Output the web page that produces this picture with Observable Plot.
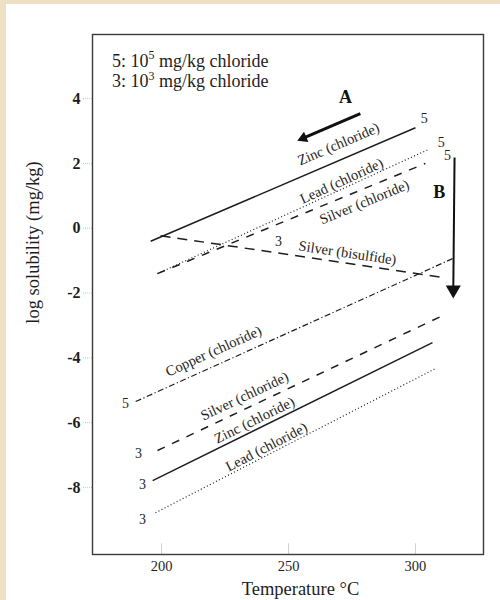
<!DOCTYPE html>
<html>
<head>
<meta charset="utf-8">
<script src="https://cdn.jsdelivr.net/npm/d3@7"></script>
<script src="https://cdn.jsdelivr.net/npm/@observablehq/plot@0.6"></script>
<style>
  html, body { margin: 0; padding: 0; background: #ffffff; overflow: hidden; }
  #wrap { position: relative; width: 500px; height: 600px; }
  .strip { position: absolute; background: #ede0c4; }
  #stripL { left: 0; top: 0; width: 6px; height: 600px; }
  #stripT { left: 0; top: 0; width: 500px; height: 4px; }
  svg { display: block; }
</style>
</head>
<body>
<div id="wrap"><div id="chart"></div><div class="strip" id="stripL"></div><div class="strip" id="stripT"></div></div>
<script>
// ---- data ----
const lineNames = ["Zinc 5", "Lead 5", "Silver chloride 5", "Silver bisulfide 3", "Copper 5", "Silver chloride 3", "Zinc 3", "Lead 3"];
const tStart = [195.7, 198.4, 198.4, 199.6, 189.8, 198.4, 196.5, 197.6];
const tEnd   = [300.0, 305.1, 303.9, 311.0, 315.4, 309.8, 306.7, 307.9];
const sStart = [-0.40, -1.40, -1.40, -0.23, -5.35, -6.86, -7.79, -8.78];
const sEnd   = [3.10, 2.43, 2.00, -1.52, -0.91, -2.73, -3.53, -4.33];

const labelText = ["Zinc (chloride)", "Lead (chloride)", "Silver (chloride)", "Silver (bisulfide)", "Copper (chloride)", "Silver (chloride)", "Zinc (chloride)", "Lead (chloride)"];
const labelT = [269.7, 270.9, 279.9, 273.2, 220.5, 232.7, 236.6, 241.3];
const labelS = [2.55, 1.41, 0.76, -0.81, -3.84, -5.23, -5.97, -6.80];

const tagText = ["5", "5", "5", "3", "5", "3", "3", "3"];
const tagT = [303.5, 310.2, 312.6, 246.1, 185.8, 190.9, 192.5, 192.5];
const tagS = [3.38, 2.64, 2.24, -0.41, -5.41, -6.96, -7.91, -8.99];

const xTicks = [200, 250, 300];
const yTicks = [4, 2, 0, -2, -4, -6, -8];

const arrowNames = ["A", "B"];
const arrowT1 = [278.3, 315.4];
const arrowS1 = [3.54, 2.18];
const arrowT2 = [255.8, 314.9];
const arrowS2 = [2.78, -1.90];
const arrowLabelT = [272.4, 309.4];
const arrowLabelS = [4.03, 1.10];

const legendLines = [["5: 10", "5", " mg/kg chloride"], ["3: 10", "3", " mg/kg chloride"]];
const legendT = 180.7;
const legendS = [4.97, 4.33];
const xLabel = "Temperature °C";
const yLabel = "log solubility (mg/kg)";

// ---- layout / style ----
const W = 500, H = 600;
const mL = 92, mR = 17, mT = 34, mB = 46;
const xDom = [172.8, 326.8], yDom = [-10.07, 5.98];
const kx = (W - mL - mR) / (xDom[1] - xDom[0]);
const ky = (H - mT - mB) / (yDom[1] - yDom[0]);

const lineStyle = {
  "Zinc 5": "solid", "Zinc 3": "solid",
  "Lead 5": "dotted", "Lead 3": "dotted",
  "Silver chloride 5": "dashed", "Silver chloride 3": "dashed",
  "Silver bisulfide 3": "dashed2", "Copper 5": "dashdot"
};
const dash = { solid: null, dotted: "1,2.4", dashed: "8,8", dashed2: "10,7", dashdot: "6,2.5,1.2,2.5" };
const widths = { solid: 1.5, dotted: 1.2, dashed: 1.5, dashed2: 1.5, dashdot: 1.2 };

const lines = lineNames.map((n, i) => ({ name: n, t1: tStart[i], s1: sStart[i], t2: tEnd[i], s2: sEnd[i] }));
const angleOf = i => Math.atan2(-(sEnd[i] - sStart[i]) * ky, (tEnd[i] - tStart[i]) * kx) * 180 / Math.PI;
const labels = labelText.map((t, i) => ({ text: t, t: labelT[i], s: labelS[i], angle: angleOf(i) }));
const tags = tagText.map((t, i) => ({ text: t, t: tagT[i], s: tagS[i] }));
const arrows = arrowNames.map((n, i) => ({ name: n, t1: arrowT1[i], s1: arrowS1[i], t2: arrowT2[i], s2: arrowS2[i], lt: arrowLabelT[i], ls: arrowLabelS[i] }));

const ink = "#1e1e1e";
const serif = "Liberation Serif, Times New Roman, serif";
const styleGroups = Object.keys(dash);

const plot = Plot.plot({
  width: W, height: H,
  marginLeft: mL, marginRight: mR, marginTop: mT, marginBottom: mB,
  x: { domain: xDom },
  y: { domain: yDom },
  style: { fontFamily: serif, background: "transparent", color: ink },
  marks: [
    Plot.axisY(yTicks, { tickSize: 10, tickPadding: 2, fontSize: 16, fontWeight: "bold", stroke: "#c8c8c8", strokeDasharray: "1,1", tickFormat: d => String(d), label: null }),
    Plot.axisX(xTicks, { tickSize: 0, tickPadding: 6, fontSize: 14.5, tickFormat: d => String(d), label: null }),
    Plot.ruleX(xTicks, { y1: yDom[0], y2: yDom[0] + 0.33, stroke: "#d0d0d0" }),
    Plot.frame({ stroke: "#3a3a3a", strokeWidth: 1.4 }),
    ...styleGroups.map(g => Plot.link(lines.filter(d => lineStyle[d.name] === g), {
      x1: "t1", y1: "s1", x2: "t2", y2: "s2",
      stroke: ink, strokeWidth: widths[g], strokeDasharray: dash[g]
    })),
    Plot.text(labels, { x: "t", y: "s", text: "text", rotate: "angle", fontSize: 14.5, fill: ink, dy: -1.5 }),
    Plot.text(tags, { x: "t", y: "s", text: "text", fontSize: 14, fill: ink }),
    Plot.link(arrows.filter(d => d.name === "A"), { x1: "t1", y1: "s1", x2: "t2", y2: "s2", stroke: "#111", strokeWidth: 3 }),
    Plot.link(arrows.filter(d => d.name === "B"), { x1: "t1", y1: "s1", x2: "t2", y2: "s2", stroke: "#111", strokeWidth: 2 }),
    Plot.dot(arrows.filter(d => d.name === "A"), { x: "t2", y: "s2", symbol: "triangle", r: 4.2, fill: "#111", rotate: 246.8 }),
    Plot.dot(arrows.filter(d => d.name === "B"), { x: "t2", y: "s2", symbol: "triangle", r: 5.6, fill: "#111", rotate: 180 }),
    Plot.text(arrows, { x: "lt", y: "ls", text: "name", fontSize: 18, fontWeight: "bold", fill: "#111" }),
    Plot.text([xLabel], { frameAnchor: "bottom", x: 254.7, dy: 35, text: d => d, fontSize: 18.5, fill: ink, lineAnchor: "middle", textAnchor: "middle" }),
    Plot.text([yLabel], { frameAnchor: "left", y: -0.44, dx: -59, text: d => d, fontSize: 18.5, fill: ink, rotate: -90, lineAnchor: "middle", textAnchor: "middle" })
  ]
});

// legend with real superscripts, positioned through the plot's scales
const sx = plot.scale("x"), sy = plot.scale("y");
const svg = d3.select(plot);
legendLines.forEach((parts, i) => {
  const t = svg.append("text")
    .attr("x", sx.apply(legendT)).attr("y", sy.apply(legendS[i]))
    .attr("text-anchor", "start")
    .attr("font-size", 18).attr("fill", ink)
    .attr("font-family", serif);
  t.append("tspan").text(parts[0]);
  t.append("tspan").attr("dy", -7.5).attr("font-size", 12).text(parts[1]);
  t.append("tspan").attr("dy", 7.5).text(parts[2]);
});

document.getElementById("chart").appendChild(plot);
</script>
</body>
</html>
